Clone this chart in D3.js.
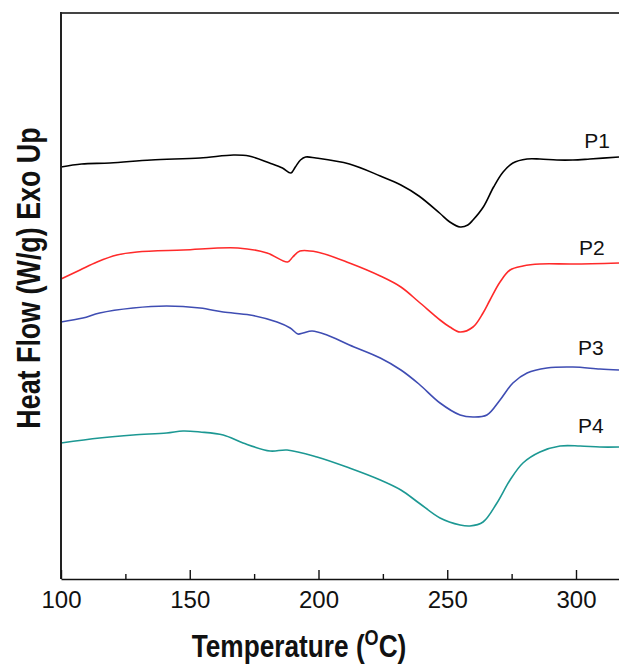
<!DOCTYPE html>
<html>
<head>
<meta charset="utf-8">
<script src="https://cdn.jsdelivr.net/npm/d3@7"></script>
<style>
  body { margin: 0; background: #fff; }
  text { font-family: "Liberation Sans", Arial, sans-serif; }
</style>
</head>
<body>
<script>
// DSC traces, temperature (C) and heat flow (W/g, curves offset)
const tempP1 = [100,108,119,135,154,167,173,181,186,189.3,191,193,195,199,212,224,232,239,247,251,255,258,260,264,268,271.7,275.5,281,286,292.6,298.8,305.4,316.7];
const flowP1 = [-1.54,-1.51,-1.50,-1.47,-1.45,-1.42,-1.43,-1.50,-1.55,-1.60,-1.54,-1.47,-1.44,-1.45,-1.51,-1.63,-1.72,-1.83,-2.00,-2.09,-2.14,-2.12,-2.07,-1.94,-1.74,-1.59,-1.50,-1.46,-1.46,-1.47,-1.47,-1.46,-1.44];

const tempP2 = [100,107.4,114,121.7,129.5,147.4,168.7,180,188,190,192.8,199.4,212,224,232,239,247.2,251,255,260,263.9,266.6,270.5,274.4,279.4,286,298.8,316.7];
const flowP2 = [-2.66,-2.57,-2.49,-2.42,-2.39,-2.37,-2.35,-2.40,-2.49,-2.44,-2.38,-2.39,-2.50,-2.63,-2.74,-2.89,-3.07,-3.14,-3.19,-3.14,-3.00,-2.87,-2.69,-2.57,-2.53,-2.51,-2.51,-2.50];

const tempP3 = [100,108.5,115,128,141,154,163,173.4,183.9,189,192,194,197.5,203.3,212,224,232,239,247.2,255,260,265.4,270.5,275.5,281,288.7,298.8,309.3,316.7];
const flowP3 = [-3.09,-3.05,-3.00,-2.95,-2.93,-2.95,-2.99,-3.02,-3.09,-3.15,-3.21,-3.20,-3.18,-3.22,-3.32,-3.45,-3.57,-3.71,-3.90,-4.02,-4.04,-4.02,-3.87,-3.70,-3.60,-3.55,-3.54,-3.56,-3.57];

const tempP4 = [100,115,128,141,147.4,154,163,170.7,181.2,187.8,199.4,212,224,232,239,247.2,255,258.8,263.9,269.3,274.4,279.4,286,293.8,301.6,309.3,316.7];
const flowP4 = [-4.30,-4.25,-4.22,-4.20,-4.18,-4.19,-4.22,-4.30,-4.38,-4.37,-4.44,-4.55,-4.67,-4.77,-4.90,-5.05,-5.12,-5.13,-5.09,-4.90,-4.67,-4.50,-4.39,-4.33,-4.33,-4.34,-4.34];

const seriesNames = ["P1", "P2", "P3", "P4"];
const seriesColors = ["#000000", "#ff2a2a", "#3f4db3", "#1c9893"];
const labelTemp = [308.2, 306.2, 305.8, 305.8];
const labelFlow = [-1.35, -2.42, -3.42, -4.20];
const majorTicks = [100, 150, 200, 250, 300];
const minorTicks = [125, 175, 225, 275];

const W = 619, H = 664;
const margin = {top: 13, right: 0, bottom: 85, left: 61};

const svg = d3.select("body").append("svg")
  .attr("width", W).attr("height", H);

const x = d3.scaleLinear().domain([100, 316.7]).range([margin.left, W - margin.right]);
const y = d3.scaleLinear().domain([-5.66, 0]).range([H - margin.bottom, margin.top]);

const series = [
  {t: tempP1, v: flowP1},
  {t: tempP2, v: flowP2},
  {t: tempP3, v: flowP3},
  {t: tempP4, v: flowP4}
];

const line = d3.line()
  .x(d => x(d[0]))
  .y(d => y(d[1]))
  .curve(d3.curveCatmullRom.alpha(0.5));

series.forEach((s, i) => {
  svg.append("path")
    .datum(d3.zip(s.t, s.v))
    .attr("fill", "none")
    .attr("stroke", seriesColors[i])
    .attr("stroke-width", 1.6)
    .attr("d", line);
});

// labels next to the right-hand plateaus
seriesNames.forEach((name, i) => {
  svg.append("text")
    .attr("x", x(labelTemp[i]))
    .attr("y", y(labelFlow[i]))
    .attr("text-anchor", "middle")
    .attr("font-size", 21)
    .attr("fill", "#111")
    .text(name);
});

// frame: top and left
svg.append("line")
  .attr("x1", margin.left).attr("x2", W)
  .attr("y1", margin.top).attr("y2", margin.top)
  .attr("stroke", "#444").attr("stroke-width", 2);
svg.append("line")
  .attr("x1", margin.left).attr("x2", margin.left)
  .attr("y1", margin.top - 1).attr("y2", H - margin.bottom)
  .attr("stroke", "#222").attr("stroke-width", 2);

// bottom axis, ticks pointing inward
const xAxis = svg.append("g")
  .attr("transform", `translate(0,${H - margin.bottom})`)
  .call(d3.axisBottom(x).tickValues(majorTicks).tickSizeInner(-9).tickSizeOuter(0).tickPadding(12));
xAxis.select(".domain").attr("stroke", "#111").attr("stroke-width", 1.6);
xAxis.selectAll(".tick line").attr("stroke", "#111").attr("stroke-width", 1.4);
xAxis.selectAll(".tick text")
  .attr("font-size", 24)
  .attr("font-family", "'Liberation Sans', Arial, sans-serif")
  .attr("fill", "#111");

svg.append("g")
  .attr("transform", `translate(0,${H - margin.bottom})`)
  .call(d3.axisBottom(x).tickValues(minorTicks).tickSizeInner(-5).tickSizeOuter(0).tickFormat(""))
  .call(g => g.select(".domain").remove())
  .selectAll(".tick line").attr("stroke", "#111").attr("stroke-width", 1.4);

// axis titles
const xt = svg.append("text")
  .attr("transform", "translate(299,657) scale(0.82,1)")
  .attr("text-anchor", "middle")
  .attr("font-size", 32)
  .attr("font-weight", "bold")
  .attr("fill", "#111");
xt.append("tspan").text("Temperature (");
xt.append("tspan").attr("font-size", 22).attr("dy", -12).text("O");
xt.append("tspan").attr("dy", 12).text("C)");

svg.append("text")
  .attr("transform", "translate(40,278) rotate(-90) scale(0.79,1)")
  .attr("text-anchor", "middle")
  .attr("font-size", 34)
  .attr("font-weight", "bold")
  .attr("fill", "#111")
  .text("Heat Flow (W/g) Exo Up");
</script>
</body>
</html>
